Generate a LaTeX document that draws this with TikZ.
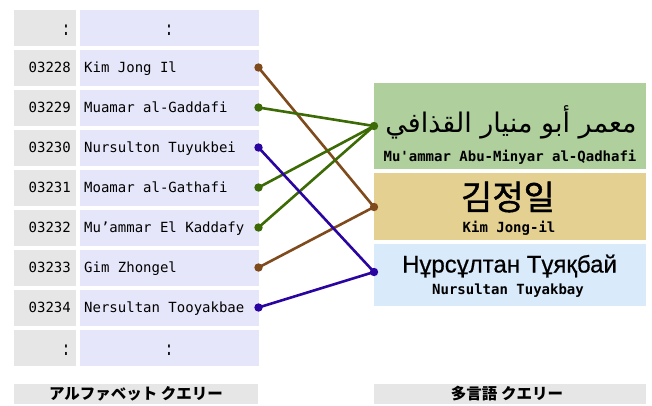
\documentclass[tikz,border=0pt]{standalone}
\usepackage{fontspec}
\setmonofont{DejaVu Sans Mono}
\newfontfamily\arabicfont[Script=Arabic]{DejaVu Sans}
\newfontfamily\korfont[FakeBold=1.2]{Noto Sans CJK KR}
\newfontfamily\jpfont{Noto Sans CJK JP}
\newfontfamily\cyrfont[FakeBold=0.6]{Liberation Sans}
\TeXXeTstate=1
\definecolor{cellgray}{HTML}{E6E6E6}
\definecolor{cellblue}{HTML}{E6E6FA}
\definecolor{boxgreen}{HTML}{AFCF9D}
\definecolor{boxtan}{HTML}{E4D191}
\definecolor{boxblue}{HTML}{D9EAFB}
\definecolor{lnbrown}{HTML}{7F4A1C}
\definecolor{lngreen}{HTML}{3C6A04}
\definecolor{lnblue}{HTML}{2A04A0}
\tikzset{
  numcell/.style={fill=cellgray,draw=none},
  namecell/.style={fill=cellblue,draw=none},
  mono/.style={font=\ttfamily\fontsize{14}{16}\selectfont},
  monob/.style={font=\ttfamily\bfseries\fontsize{14}{16}\selectfont},
  link/.style={line width=2.6pt},
  jplabel/.style={font=\jpfont\bfseries\fontsize{15.5}{17}\selectfont},
}
\newcommand{\vcolon}{\scalebox{1}[1.45]{:}}
\begin{document}
\begin{tikzpicture}[x=1pt,y=-1pt]
\useasboundingbox (0,0) rectangle (652,405);
% left table
\foreach \i/\num/\nm in {0/\vcolon/\vcolon,1/03228/Kim Jong Il,2/03229/Muamar al-Gaddafi,3/03230/Nursulton Tuyukbei,4/03231/Moamar al-Gathafi,5/03232/Mu’ammar El Kaddafy,6/03233/Gim Zhongel,7/03234/Nersultan Tooyakbae,8/\vcolon/\vcolon}{
  \pgfmathsetmacro{\t}{10+40*\i}
  \pgfmathsetmacro{\c}{27.5+40*\i}
  \fill[cellgray] (14,\t) rectangle (76,\t+35.5);
  \fill[cellblue] (80,\t) rectangle (259,\t+35.5);
  \ifnum\i=0
    \node[mono,anchor=base east,inner sep=0pt] (n\i) at (70.5,\c+8) {\num};
    \node[mono,anchor=base,inner sep=0pt] (m\i) at (169,\c+8) {\nm};
  \else\ifnum\i=8
    \node[mono,anchor=base east,inner sep=0pt] (n\i) at (70.5,\c+8) {\num};
    \node[mono,anchor=base,inner sep=0pt] (m\i) at (169,\c+8) {\nm};
  \else
    \node[mono,anchor=base east,inner sep=0pt] (n\i) at (71,\c+5) {\num};
    \node[mono,anchor=base west,inner sep=0pt] (m\i) at (84,\c+5) {\nm};
  \fi\fi
  \coordinate (p\i) at (258.5,\c);
}
% right boxes
\fill[boxgreen] (374,83) rectangle (646,169);
\fill[boxtan] (374,173) rectangle (646,240);
\fill[boxblue] (374,244) rectangle (646,306);
\node[font=\arabicfont\fontsize{27}{30}\selectfont,inner sep=0pt] (ar) at (511,122) {\beginR معمر أبو منيار القذافي\endR};
\node[monob,anchor=base,inner sep=0pt] (art) at (510,161) {Mu'ammar Abu-Minyar al-Qadhafi};
\node[font=\korfont\fontsize{34}{38}\selectfont,inner sep=0pt] (ko) at (508,197) {김정일};
\node[monob,anchor=base,inner sep=0pt] (kot) at (509,232) {Kim Jong-il};
\node[font=\cyrfont\fontsize{24}{28}\selectfont,anchor=base,inner sep=0pt] (kz) at (509.5,272.5) {Нұрсұлтан Тұяқбай};
\node[monob,anchor=base,inner sep=0pt] (kzt) at (508,294) {Nursultan Tuyakbay};
\coordinate (qa) at (374,126);
\coordinate (qk) at (374,207);
\coordinate (qz) at (374,272);
% links
\draw[link,lnbrown] (p1) -- (qk);
\draw[link,lnbrown] (p6) -- (qk);
\draw[link,lngreen] (p2) -- (qa);
\draw[link,lngreen] (p4) -- (qa);
\draw[link,lngreen] (p5) -- (qa);
\draw[link,lnblue] (p3) -- (qz);
\draw[link,lnblue] (p7) -- (qz);
\foreach \p/\col in {p1/lnbrown,p6/lnbrown,qk/lnbrown,p2/lngreen,p4/lngreen,p5/lngreen,qa/lngreen,p3/lnblue,p7/lnblue,qz/lnblue}
  \fill[\col] (\p) circle (4.2);
% bottom labels
\fill[cellgray] (14,384) rectangle (258,404);
\fill[cellgray] (374,384) rectangle (646,404);
\node[jplabel,inner sep=0pt] (la) at (136,394) {アルファベット クエリー};
\node[jplabel,inner sep=0pt] (lb) at (507,394) {多言語 クエリー};
\end{tikzpicture}
\end{document}
